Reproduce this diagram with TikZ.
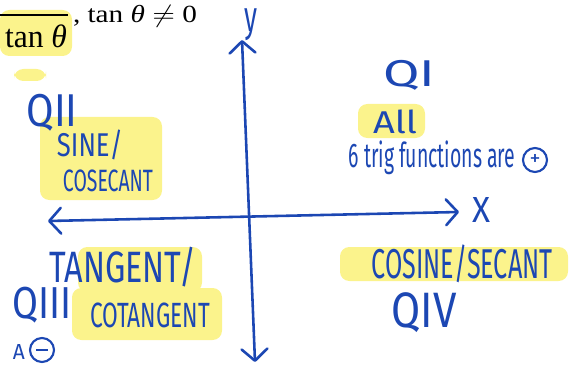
\documentclass[tikz,border=0pt]{standalone}
\usepackage{fontspec}
\setmainfont{Liberation Serif}
\newfontfamily\hand{Fira Sans}
\usepackage{graphicx}
\usepackage{xcolor}
\definecolor{inkblue}{HTML}{1C47B3}
\definecolor{hlyellow}{HTML}{FBF38C}
\usetikzlibrary{arrows.meta}
\newlength\px
\setlength\px{0.03cm}
\newcommand\hw[3]{\resizebox*{#1\px}{#2\px}{\hand #3}}
\newcommand\pr[3]{\resizebox*{#1\px}{#2\px}{#3}}

\begin{document}
\begin{tikzpicture}[
  x=0.03cm, y=-0.03cm,
  scrawl/.style={text=inkblue, inner sep=0pt},
  printed/.style={text=black, inner sep=0pt},
  hilite/.style={fill=hlyellow, rounded corners=8pt},
  ring/.style={circle, draw=inkblue, line width=1.8pt, minimum size=24\px, inner sep=0pt, text=inkblue},
  axis/.style={draw=inkblue, line width=2.2pt, line cap=round, {Straight Barb[round,length=10pt,width=22pt]}-{Straight Barb[round,length=10pt,width=22pt]}}
]
  \useasboundingbox (0,0) rectangle (569,369);
  \clip (0,0) rectangle (569,369);

  \fill[hilite] (0,10) rectangle (72,56);
  \fill[hilite] (14,69) rectangle (46,81);
  \fill[hilite] (40,117) rectangle (162,200);
  \fill[hilite] (358,104) rectangle (425,138);
  \fill[hilite] (78,247) rectangle (202,292);
  \fill[hilite] (72,288) rectangle (222,340);
  \fill[hilite] (340,247) rectangle (568,281);

  \node[printed] (num)  at (36,-9)  {\pr{9}{20}{1}};
  \draw[line width=1.2\px] (0,15) -- (68,15);
  \node[printed] (den)  at (36,36)  {\pr{62}{23}{tan \textit{θ}}};
  \node[printed] (cond) at (135,16) {\pr{124}{22}{, tan \textit{θ} $\neq$ 0}};

  \coordinate (xl) at (48,221);
  \coordinate (xr) at (459,212);
  \coordinate (yt) at (242,40);
  \coordinate (yb) at (255,362);
  \draw[axis] (xl) -- (xr);
  \draw[axis] (yb) -- (yt);

  \node[scrawl] (ylab) at (251,25)  {\hw{13}{32}{y}};
  \node[scrawl] (xlab) at (481,210) {\hw{18}{25}{X}};

  \node[scrawl] (qone)   at (409,75)  {\hw{52}{30}{QI}};
  \node[scrawl] (all)    at (395,122) {\hw{44}{24}{All}};
  \node[scrawl] (six)    at (432,158) {\hw{167}{34}{6 trig functions are}};
  \node[ring]   (plus)   at (535,160) {\hw{11}{11}{+}};

  \node[scrawl] (qtwo)   at (52,113)  {\hw{51}{37}{QII}};
  \node[scrawl] (sine)   at (90,145)  {\hw{66}{30}{SINE/}};
  \node[scrawl] (cosec)  at (108,181) {\hw{90}{22}{COSECANT}};

  \node[scrawl] (tang)   at (123,267) {\hw{147}{40}{TANGENT/}};
  \node[scrawl] (cotan)  at (150,315) {\hw{120}{25}{COTANGENT}};
  \node[scrawl] (qthree) at (42,305)  {\hw{59}{36}{QIII}};
  \node[scrawl] (alet)   at (19,352)  {\hw{12}{15}{A}};
  \node[ring]   (minus)  at (42,350)  {\rule{12\px}{2.5\px}};

  \node[scrawl] (cosine) at (462,264) {\hw{181}{38}{COSINE/SECANT}};
  \node[scrawl] (qfour)  at (424,313) {\hw{65}{40}{QIV}};
\end{tikzpicture}
\end{document}
